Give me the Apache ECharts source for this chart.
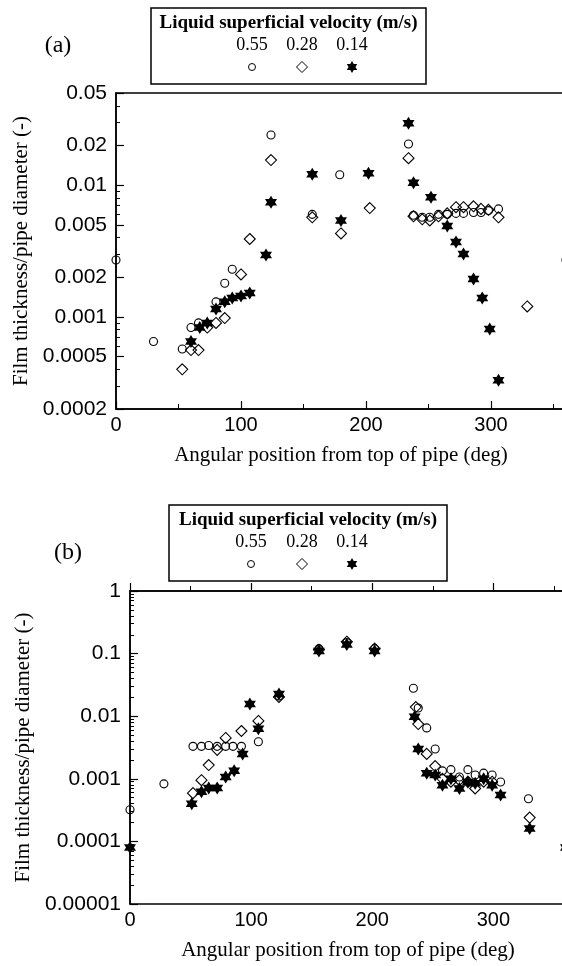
<!DOCTYPE html>
<html>
<head>
<meta charset="utf-8">
<script src="https://cdn.jsdelivr.net/npm/echarts@6/dist/echarts.min.js"></script>
<style>
  html, body { margin: 0; padding: 0; background: #fff; }
  #film { width: 562px; height: 966px; }
</style>
</head>
<body>
<div id="film"></div>
<script>
// panel (a): angle (deg) and film thickness / pipe diameter, per liquid velocity
var angA055 = [0, 30, 53, 60, 66, 80, 87, 93, 124, 157, 179, 234, 238, 245, 251, 258, 265, 272, 278, 286, 292, 298, 306, 360];
var valA055 = [0.0027, 0.00065, 0.00057, 0.00083, 0.0009, 0.0013, 0.0018, 0.0023, 0.024, 0.006, 0.012, 0.0205, 0.0059, 0.0057, 0.0057, 0.006, 0.006, 0.0061, 0.0061, 0.0062, 0.0062, 0.0064, 0.0066, 0.0027];
var angA028 = [53, 60, 66, 73, 80, 87, 100, 107, 124, 157, 180, 203, 234, 238, 245, 251, 258, 265, 272, 278, 286, 292, 298, 306, 329];
var valA028 = [0.0004, 0.00056, 0.00056, 0.00083, 0.0009, 0.00098, 0.0021, 0.0039, 0.0155, 0.0057, 0.0043, 0.0067, 0.016, 0.0058, 0.0055, 0.0054, 0.0058, 0.0061, 0.0068, 0.0068, 0.0069, 0.0066, 0.0065, 0.0057, 0.0012];
var angA014 = [60, 67, 73, 80, 87, 93, 100, 107, 120, 124, 157, 180, 202, 234, 238, 252, 265, 272, 278, 286, 293, 299, 306];
var valA014 = [0.00065, 0.00083, 0.0009, 0.00115, 0.0013, 0.00139, 0.00144, 0.00152, 0.00295, 0.0074, 0.0121, 0.0054, 0.0123, 0.0295, 0.0104, 0.0081, 0.0049, 0.0037, 0.003, 0.00194, 0.00139, 0.00081, 0.00033];

// panel (b)
var angB055 = [0, 28, 52, 59, 65, 72, 79, 85, 92, 106, 123, 156, 179, 202, 234, 238, 245, 252, 258, 265, 272, 279, 285, 292, 299, 306, 329];
var valB055 = [0.00032, 0.00083, 0.0033, 0.0033, 0.0034, 0.0033, 0.0033, 0.0033, 0.0033, 0.0039, 0.021, 0.12, 0.15, 0.12, 0.028, 0.0135, 0.0065, 0.003, 0.00134, 0.0014, 0.00107, 0.0014, 0.00115, 0.00123, 0.00115, 0.00089, 0.00048];
var angB028 = [52, 59, 65, 72, 79, 92, 106, 123, 156, 179, 202, 236, 238, 245, 252, 258, 265, 272, 279, 285, 292, 299, 330];
var valB028 = [0.00059, 0.00095, 0.00166, 0.0029, 0.0045, 0.0058, 0.0084, 0.0203, 0.115, 0.155, 0.12, 0.014, 0.0075, 0.0025, 0.0016, 0.001, 0.0009, 0.00095, 0.0009, 0.0007, 0.0009, 0.0009, 0.00024];
var angB014 = [0, 51, 59, 65, 72, 79, 86, 93, 99, 106, 123, 156, 179, 202, 235, 238, 245, 252, 258, 265, 272, 279, 285, 292, 299, 306, 330, 360];
var valB014 = [0.00008, 0.0004, 0.00062, 0.00071, 0.00071, 0.00107, 0.00135, 0.0025, 0.0157, 0.0063, 0.0226, 0.11, 0.14, 0.11, 0.0098, 0.003, 0.00123, 0.00115, 0.00079, 0.001, 0.0007, 0.00089, 0.00085, 0.001, 0.00079, 0.00055, 0.00016, 0.00008];

var velocities = ['0.55', '0.28', '0.14'];
var yLabelsA = ['0.0002', '0.0005', '0.001', '0.002', '0.005', '0.01', '0.02', '0.05'];
var yLabelsB = ['0.00001', '0.0001', '0.001', '0.01', '0.1', '1'];

var xName = 'Angular position from top of pipe (deg)';
var yName = 'Film thickness/pipe diameter (-)';
var legendTitle = 'Liquid superficial velocity (m/s)';

var serif = "'Liberation Serif', 'Times New Roman', serif";
var sans = "'Liberation Sans', Arial, sans-serif";
var STAR = 'path://M0,-10L2.89,-5L8.66,-5L5.77,0L8.66,5L2.89,5L0,10L-2.89,5L-8.66,5L-5.77,0L-8.66,-5L-2.89,-5Z';

function lg(v) { return Math.log10(v); }
function pairs(ang, val) {
    return ang.map(function (a, i) { return [a, lg(val[i])]; });
}
// minor ticks: integer multiples inside each decade that carry no label
function minorTicks(lo, hi, labels) {
    var out = [];
    for (var e = -6; e <= 1; e++) {
        for (var m = 1; m <= 9; m++) {
            var v = m * Math.pow(10, e);
            if (v < lo * 0.999 || v > hi * 1.001) continue;
            var hit = labels.some(function (s) { return Math.abs(lg(+s) - lg(v)) < 1e-6; });
            if (!hit) out.push(lg(v));
        }
    }
    return out;
}
function labelFor(labels) {
    return function (val) {
        for (var i = 0; i < labels.length; i++) {
            if (Math.abs(lg(+labels[i]) - val) < 1e-6) return labels[i];
        }
        return '';
    };
}

function xAxisFor(grid, gap) {
    return {
        gridIndex: grid, type: 'value', min: 0, max: 360, interval: 100,
        axisLine: { lineStyle: { color: '#000', width: 1.5 } },
        axisTick: { inside: true, length: 8, lineStyle: { color: '#000', width: 1.2 } },
        minorTick: { show: true, splitNumber: 2, length: 5, lineStyle: { color: '#000', width: 1 } },
        axisLabel: { color: '#000', fontFamily: sans, fontSize: 20, margin: 6, showMaxLabel: false },
        splitLine: { show: false },
        name: xName, nameLocation: 'middle', nameGap: gap,
        nameTextStyle: { color: '#000', fontFamily: serif, fontSize: 21 }
    };
}
function yAxisMajor(grid, labels, gap) {
    var ticks = labels.map(function (s) { return lg(+s); });
    return {
        gridIndex: grid, type: 'value', position: 'left',
        min: ticks[0], max: ticks[ticks.length - 1],
        axisLine: { show: true, lineStyle: { color: '#000', width: 1.5 } },
        axisTick: { show: true, inside: true, length: 8, customValues: ticks, lineStyle: { color: '#000', width: 1.2 } },
        axisLabel: { customValues: ticks, formatter: labelFor(labels), color: '#000', fontFamily: sans, fontSize: 21, margin: 9 },
        splitLine: { show: false },
        name: yName, nameLocation: 'middle', nameRotate: 90, nameGap: gap,
        nameTextStyle: { color: '#000', fontFamily: serif, fontSize: 21 }
    };
}
function yAxisMinor(grid, labels) {
    var lo = +labels[0], hi = +labels[labels.length - 1];
    return {
        gridIndex: grid, type: 'value', position: 'left', offset: 0,
        min: lg(lo), max: lg(hi),
        axisLine: { show: false },
        axisTick: { show: true, inside: true, length: 4, customValues: minorTicks(lo, hi, labels), lineStyle: { color: '#000', width: 1 } },
        axisLabel: { show: false },
        splitLine: { show: false }
    };
}

var markStyle = [
    { symbol: 'circle', symbolSize: 8, itemStyle: { color: 'rgba(0,0,0,0)', borderColor: '#000', borderWidth: 1.1, opacity: 1 } },
    { symbol: 'diamond', symbolSize: [11, 11], itemStyle: { color: 'rgba(0,0,0,0)', borderColor: '#000', borderWidth: 1.1, opacity: 1 } },
    { symbol: STAR, symbolSize: [12, 13], itemStyle: { color: '#000', opacity: 1 } }
];
function scatter(name, k, xi, yi, ang, val) {
    return {
        name: name, type: 'scatter', xAxisIndex: xi, yAxisIndex: yi,
        symbol: markStyle[k].symbol, symbolSize: markStyle[k].symbolSize,
        itemStyle: markStyle[k].itemStyle,
        data: pairs(ang, val), z: 2 + k, silent: true
    };
}

function hexagram(cx, cy, r) {
    var pts = [];
    for (var i = 0; i < 12; i++) {
        var ang = (-90 + i * 30) * Math.PI / 180;
        var rr = i % 2 === 0 ? r : r / Math.sqrt(3);
        pts.push([cx + rr * Math.cos(ang), cy + rr * Math.sin(ang)]);
    }
    return pts;
}
function legendBox(x, y, w, h, symX) {
    var els = [
        { type: 'rect', shape: { x: x, y: y, width: w, height: h }, style: { fill: 'none', stroke: '#000', lineWidth: 1.5 } },
        { type: 'text', style: { text: legendTitle, x: x + w / 2, y: y + 15, textAlign: 'center', textVerticalAlign: 'middle', align: 'center', verticalAlign: 'middle', font: 'bold 19px ' + serif, fill: '#000' } }
    ];
    velocities.forEach(function (v, i) {
        els.push({ type: 'text', style: { text: v, x: symX[i], y: y + 37, textAlign: 'center', textVerticalAlign: 'middle', align: 'center', verticalAlign: 'middle', font: '18px ' + serif, fill: '#000' } });
    });
    var sy = y + 59;
    els.push({ type: 'circle', shape: { cx: symX[0], cy: sy, r: 3.5 }, style: { fill: 'none', stroke: '#000', lineWidth: 1 } });
    els.push({ type: 'polygon', shape: { points: [[symX[1], sy - 5.5], [symX[1] + 5.5, sy], [symX[1], sy + 5.5], [symX[1] - 5.5, sy]] }, style: { fill: 'none', stroke: '#000', lineWidth: 1 } });
    els.push({ type: 'polygon', shape: { points: hexagram(symX[2], sy, 6) }, style: { fill: '#000' } });
    return els;
}

var graphics = []
    .concat(legendBox(151, 8, 275, 76, [252, 302, 352]))
    .concat(legendBox(169, 505, 278, 76, [251, 302, 352]))
    .concat([
        { type: 'text', style: { text: '(a)', x: 58, y: 46, textAlign: 'center', textVerticalAlign: 'middle', align: 'center', verticalAlign: 'middle', font: '24px ' + serif, fill: '#000' } },
        { type: 'text', style: { text: '(b)', x: 68, y: 553, textAlign: 'center', textVerticalAlign: 'middle', align: 'center', verticalAlign: 'middle', font: '24px ' + serif, fill: '#000' } }
    ]);

var chart = echarts.init(document.getElementById('film'), null, { renderer: 'canvas' });
chart.setOption({
    animation: false,
    backgroundColor: '#fff',
    grid: [
        { left: 116, top: 93, width: 450, height: 316, show: true, borderColor: '#000', borderWidth: 1.5, outerBoundsMode: 'none', containLabel: false },
        { left: 130, top: 591, width: 436, height: 313, show: true, borderColor: '#000', borderWidth: 1.5, outerBoundsMode: 'none', containLabel: false }
    ],
    xAxis: [xAxisFor(0, 36), xAxisFor(1, 36)],
    yAxis: [
        yAxisMajor(0, yLabelsA, 82),
        yAxisMinor(0, yLabelsA),
        yAxisMajor(1, yLabelsB, 96),
        yAxisMinor(1, yLabelsB)
    ],
    series: [
        scatter(velocities[0], 0, 0, 0, angA055, valA055),
        scatter(velocities[1], 1, 0, 0, angA028, valA028),
        scatter(velocities[2], 2, 0, 0, angA014, valA014),
        scatter(velocities[0], 0, 1, 2, angB055, valB055),
        scatter(velocities[1], 1, 1, 2, angB028, valB028),
        scatter(velocities[2], 2, 1, 2, angB014, valB014)
    ],
    graphic: graphics
});
</script>
</body>
</html>
